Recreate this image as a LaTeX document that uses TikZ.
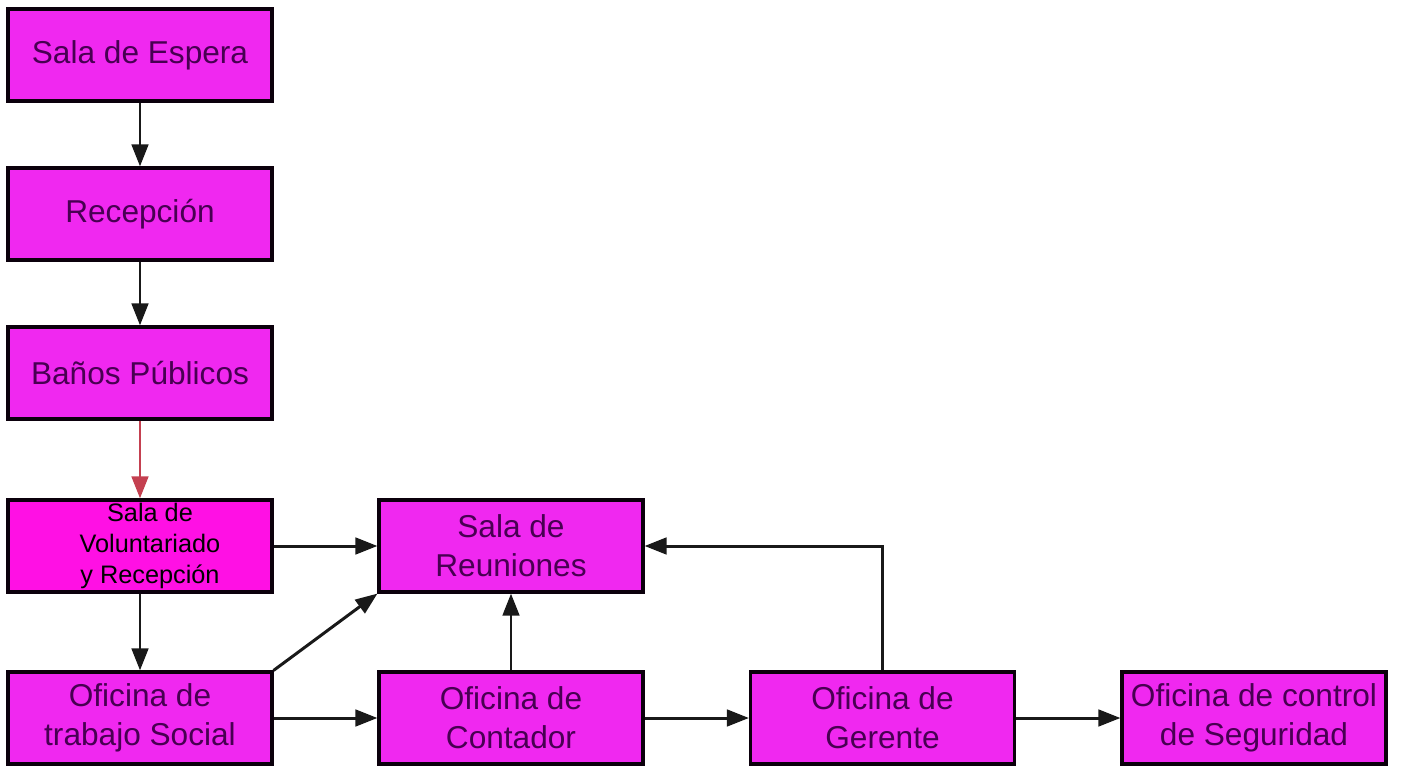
\documentclass[tikz,border=0pt]{standalone}
\usepackage{fontspec}
\setmainfont{Liberation Sans}
\usetikzlibrary{arrows.meta, shadows}

\definecolor{roomfill}{RGB}{240,40,240}
\definecolor{volfill}{RGB}{255,16,228}
\definecolor{roomtext}{RGB}{72,0,82}
\definecolor{redarrow}{RGB}{196,64,80}

\begin{document}
\begin{tikzpicture}[x=0.02cm, y=-0.02cm, >={Triangle[length=4.4mm, width=3.3mm]},
  room/.style={draw=black!85!roomtext, line width=1.8pt, fill=roomfill, text=roomtext,
    minimum width=5.28cm, minimum height=1.84cm, align=center, inner sep=1pt,
    font=\fontsize{18}{22}\selectfont,
    drop shadow={shadow xshift=1pt, shadow yshift=-1pt, opacity=0.35}},
  arr/.style={->, line width=1.7pt, black!90},
  redarr/.style={->, line width=1.7pt, redarrow}]

\useasboundingbox (0,0) rectangle (1401,765);

%% ===================== left column =====================
\node[room] (espera) at (140,55)  {Sala de Espera};
\node[room] (recep)  at (140,214) {Recepción};
\node[room] (banos)  at (140,373) {Baños Públicos};
\node[room, fill=volfill, text=black, font=\fontsize{14.4}{17.6}\selectfont]
  (volun) at (140,546)
  {\hspace*{0.4cm}Sala de\\\hspace*{0.4cm}Voluntariado\\\hspace*{0.4cm}y Recepción};
\node[room] (social) at (140,718) {Oficina de\\trabajo Social};

%% ===================== right side =====================
\node[room] (reun)  at (511,546)  {Sala de\\Reuniones};
\node[room] (conta) at (511,718)  {Oficina de\\Contador};
\node[room] (geren) at (882.5,718) {Oficina de\\Gerente};
\node[room] (segur) at (1254,718) {Oficina de control\\de Seguridad};

%% ===================== connectors =====================
\draw[arr] (espera.south) -- (recep.north);
\draw[arr] (recep.south) -- (banos.north);
\draw[redarr] (banos.south) -- (volun.north);
\draw[arr] (volun.south) -- (social.north);
\draw[arr] (volun.east) -- (reun.west);
\draw[arr] (social.north east) -- (reun.south west);
\draw[arr] (social.east) -- (conta.west);
\draw[arr] (conta.north) -- (reun.south);
\draw[arr] (conta.east) -- (geren.west);
\draw[arr] (geren.north) |- (reun.east);
\draw[arr] (geren.east) -- (segur.west);

\end{tikzpicture}
\end{document}
